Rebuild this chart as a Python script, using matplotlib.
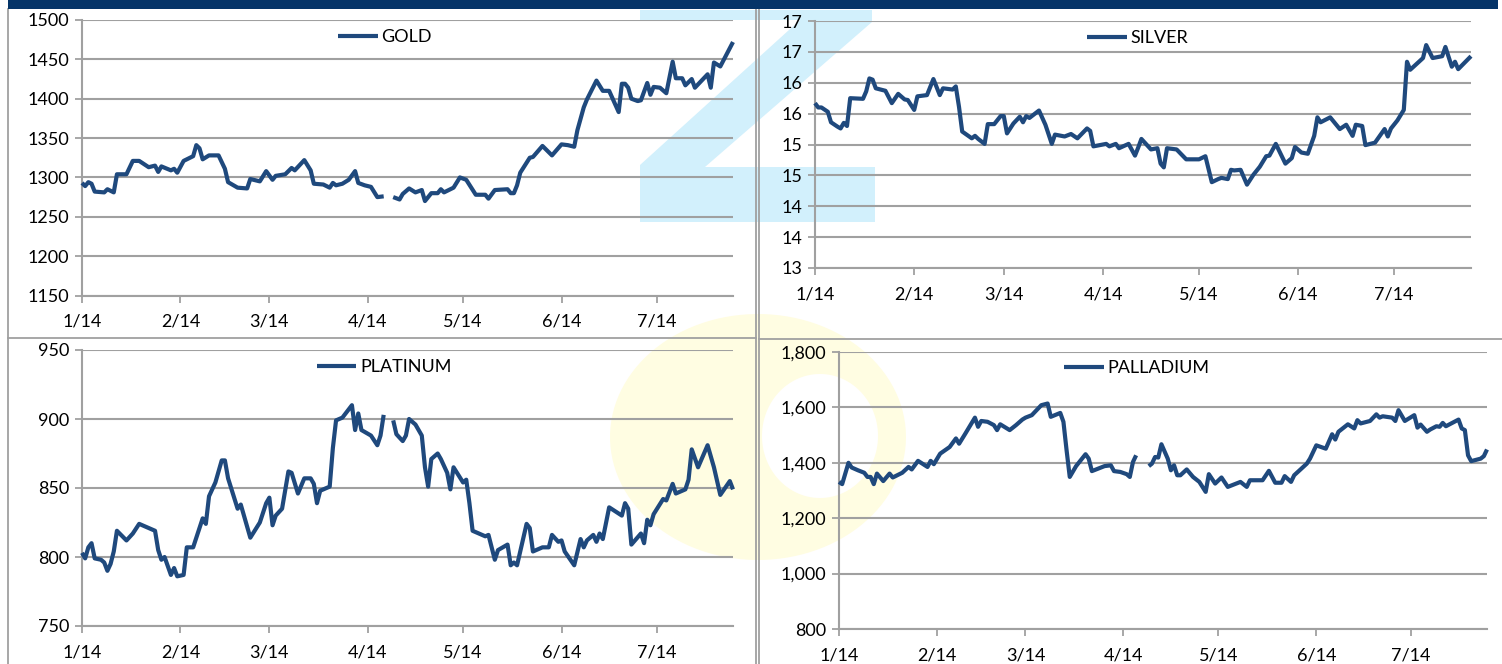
import numpy as np
import pandas as pd
import matplotlib
matplotlib.use("Agg")
import matplotlib.pyplot as plt
import matplotlib.dates as mdates
from matplotlib.patches import Polygon, PathPatch, Rectangle
from matplotlib.path import Path
from matplotlib.lines import Line2D
from matplotlib.ticker import FixedLocator, FuncFormatter

plt.rcParams['font.family'] = ['Lato', 'DejaVu Sans']

# === 1. DATA (day offset from 1 Jan 2014, None = no quote -> gap) ===
START = pd.Timestamp("2014-01-01")
LAST_DAY = 205

gold_day = [0, 1, 2, 3, 4, 7, 8, 10, 11, 14, 16, 18, 21, 23, 24, 25, 28, 29, 30, 32,
            35, 36, 37, 38, 40, 43, 45, 46, 49, 52, 53, 56, 58, 60, 61, 64, 66, 67, 70, 72,
            73, 76, 78, 79, 80, 82, 84, 86, 87, 89, 91, 93, 95, 96,
            98, 100, 101, 103, 105, 107, 108, 110, 112, 113, 114, 117, 119, 121, 124, 127, 128, 130, 134, 135,
            136, 137, 138, 141, 142, 145, 148, 151, 153, 155, 156, 158, 159, 162, 164, 166, 169, 170, 171, 172,
            173, 175, 176, 178, 179, 180, 182, 184, 186, 187, 189, 190, 192, 193, 197, 198, 199, 201, 205]
gold_val = [1293, 1289, 1294, 1292, 1282, 1281, 1285, 1281, 1304, 1304, 1321, 1321, 1313, 1315, 1307, 1314, 1309, 1311, 1306, 1321,
            1327, 1341, 1337, 1323, 1328, 1328, 1311, 1294, 1287, 1286, 1298, 1295, 1308, 1297, 1302, 1304, 1312, 1309, 1322, 1309,
            1292, 1291, 1287, 1293, 1290, 1292, 1297, 1308, 1293, 1290, 1288, 1275, 1276, None,
            1275, 1272, 1279, 1286, 1281, 1284, 1270, 1280, 1280, 1285, 1281, 1287, 1300, 1297, 1278, 1278, 1273, 1284, 1285, 1280,
            1280, 1290, 1306, 1325, 1326, 1340, 1328, 1342, 1341, 1339, 1360, 1389, 1399, 1423, 1410, 1410, 1383, 1419, 1419, 1414,
            1400, 1397, 1398, 1420, 1405, 1415, 1414, 1407, 1447, 1426, 1426, 1417, 1425, 1414, 1431, 1414, 1446, 1441, 1472]

silver_day = [0, 1, 2, 4, 5, 7, 8, 9, 10, 11, 15, 16, 17, 18, 19, 22, 24, 26, 28, 29,
              31, 32, 35, 37, 39, 40, 43, 44, 45, 46, 49, 50, 51, 53, 54, 56, 58, 59, 60, 62,
              64, 65, 66, 67, 70, 72, 74, 75, 78, 80, 82, 85, 86, 87, 91, 92, 94, 95, 98, 100,
              101, 102, 105, 107, 108, 109, 110, 113, 116, 120, 122, 124, 126, 127, 129, 130, 131, 133, 135, 137,
              139, 141, 142, 144, 147, 149, 150, 152, 154, 156, 157, 158, 161, 164, 166, 168, 169, 171, 172, 175,
              178, 179, 180, 182, 184, 185, 186, 190, 191, 193, 196, 197, 199, 200, 201, 205]
silver_val = [15.67, 15.60, 15.60, 15.53, 15.36, 15.29, 15.26, 15.35, 15.30, 15.75, 15.74, 15.86, 16.07, 16.05, 15.91, 15.87, 15.67, 15.82, 15.73, 15.72,
              15.56, 15.78, 15.80, 16.06, 15.80, 15.91, 15.89, 15.94, 15.61, 15.21, 15.10, 15.14, 15.09, 15.01, 15.33, 15.33, 15.46, 15.46, 15.18, 15.34,
              15.45, 15.36, 15.46, 15.43, 15.55, 15.32, 15.01, 15.16, 15.13, 15.17, 15.10, 15.26, 15.22, 14.97, 15.01, 14.97, 15.01, 14.94, 15.01, 14.82,
              14.95, 15.09, 14.92, 14.94, 14.69, 14.63, 14.94, 14.92, 14.76, 14.76, 14.81, 14.39, 14.44, 14.46, 14.44, 14.59, 14.58, 14.59, 14.35, 14.51,
              14.64, 14.81, 14.82, 15.01, 14.69, 14.78, 14.96, 14.87, 14.85, 15.14, 15.44, 15.36, 15.44, 15.25, 15.32, 15.14, 15.32, 15.30, 14.99, 15.03,
              15.25, 15.13, 15.26, 15.39, 15.56, 16.34, 16.21, 16.40, 16.61, 16.40, 16.43, 16.58, 16.26, 16.34, 16.22, 16.43]

platinum_day = [0, 1, 2, 3, 4, 6, 7, 8, 9, 10, 11, 14, 16, 18, 21, 23, 24, 25, 26, 28,
                29, 30, 32, 33, 35, 37, 38, 39, 40, 42, 44, 45, 46, 49, 50, 53, 56, 58, 59, 60,
                61, 63, 65, 66, 68, 70, 72, 73, 74, 75, 78, 79, 80, 82, 85, 86, 87, 88, 91, 93,
                94, 95, 96,
                98, 99, 101, 102, 103, 105, 107, 108, 109, 110, 112, 113, 115, 116, 117, 120, 121, 122,
                123, 127, 128, 130, 131, 134, 135, 136, 137, 140, 141, 142, 145, 147, 148, 150, 151, 152, 155, 157,
                158, 159, 161, 162, 163, 164, 166, 168, 170, 171, 172, 173, 176, 177, 178, 179, 180, 183, 184, 186,
                187, 190, 191, 192, 194, 197, 199, 201, 204, 205]
platinum_val = [803, 799, 807, 810, 799, 798, 796, 790, 795, 804, 819, 812, 817, 824, 821, 819, 805, 798, 800, 787,
                792, 786, 787, 807, 807, 821, 828, 824, 844, 854, 870, 870, 857, 835, 838, 814, 825, 839, 843, 823,
                830, 835, 862, 861, 846, 857, 857, 853, 839, 848, 851, 879, 899, 901, 910, 892, 904, 892, 888, 881,
                888, 903, None,
                899, 889, 884, 888, 900, 896, 888, 865, 851, 871, 875, 871, 861, 849, 865, 854, 856, 839,
                819, 815, 816, 798, 805, 809, 794, 796, 794, 824, 821, 804, 807, 807, 816, 811, 812, 804, 794, 813,
                807, 812, 816, 811, 817, 813, 836, 833, 830, 839, 835, 809, 817, 810, 827, 823, 831, 842, 841, 853,
                846, 849, 856, 878, 865, 881, 865, 845, 855, 849]

palladium_day = [0, 1, 3, 4, 6, 8, 9, 10, 11, 12, 14, 16, 17, 20, 22, 23, 25, 28, 29, 30,
                 32, 35, 37, 38, 40, 43, 44, 45, 47, 49, 50, 51, 54, 56, 58, 59, 61, 64, 66, 67,
                 70, 71, 72, 73, 75, 78, 79, 80, 84, 86, 87, 89, 91, 92, 93, 94, 96,
                 98, 99, 100, 101, 102, 104, 105, 106, 107, 108, 110, 112, 114, 116, 117, 119, 121, 123, 127, 129,
                 130, 134, 136, 138, 140, 141, 143, 144, 148, 149, 151, 154, 156, 157, 158, 161, 163, 164, 165, 168,
                 170, 171, 172, 175, 176, 177, 179, 182, 183, 184, 186, 187, 189, 190, 191, 192, 196, 197, 198, 199,
                 200, 203, 204, 205]
palladium_val = [1331, 1323, 1400, 1383, 1373, 1364, 1349, 1349, 1323, 1361, 1334, 1361, 1347, 1364, 1385, 1376, 1407, 1385, 1407, 1395,
                 1433, 1457, 1488, 1469, 1506, 1563, 1530, 1551, 1548, 1536, 1518, 1539, 1518, 1536, 1556, 1563, 1572, 1608, 1614, 1566,
                 1580, 1548, 1445, 1349, 1388, 1431, 1415, 1370, 1388, 1391, 1370, 1367, 1359, 1349, 1403, 1427, None,
                 1388, 1397, 1421, 1419, 1467, 1415, 1373, 1391, 1355, 1355, 1376, 1349, 1331, 1295, 1359, 1325, 1347, 1313, 1331, 1313,
                 1337, 1337, 1371, 1328, 1328, 1352, 1331, 1355, 1397, 1415, 1463, 1451, 1503, 1484, 1512, 1539, 1524, 1554, 1542, 1551,
                 1575, 1563, 1568, 1563, 1551, 1590, 1551, 1572, 1527, 1538, 1512, 1520, 1532, 1530, 1544, 1532, 1556, 1524, 1518, 1427,
                 1406, 1415, 1424, 1448]

gold_ticks = [1150, 1200, 1250, 1300, 1350, 1400, 1450, 1500]
silver_ticks = [13, 13.5, 14, 14.5, 15, 15.5, 16, 16.5, 17]
platinum_ticks = [750, 800, 850, 900, 950]
palladium_ticks = [800, 1000, 1200, 1400, 1600, 1800]

# === 2. STYLE ===
W, H = 1502, 664
LINE = '#1F497D'
GRID = '#A0A0A0'
NAVY = '#053468'
FS = 13


def fx(x):
    return x / W


def fy(y):
    return 1 - y / H


fig = plt.figure(figsize=(W / 100, H / 100), dpi=100)
fig.patch.set_facecolor('white')

# === 3. WATERMARK (pale logo behind the charts) ===
z_pts = [(640, 10), (872, 10), (872, 22), (705, 167), (875, 167), (875, 222),
         (640, 222), (640, 165), (800, 20), (640, 20)]
fig.patches.append(Polygon([(fx(a), fy(b)) for a, b in z_pts], closed=True,
                           transform=fig.transFigure, facecolor='#D2F0FC',
                           edgecolor='none', zorder=-2))

t = np.linspace(0, 2 * np.pi, 120)
outer = np.column_stack([fx(758 + 148 * np.cos(t)), fy(437 + 123 * np.sin(t))])
inner = np.column_stack([fx(820 + 58 * np.cos(t[::-1])), fy(436 + 62 * np.sin(t[::-1]))])
verts = np.vstack([outer, inner])
codes = ([Path.MOVETO] + [Path.LINETO] * (len(t) - 2) + [Path.CLOSEPOLY]) * 2
fig.patches.append(PathPatch(Path(verts, codes), transform=fig.transFigure,
                             facecolor='#FFFDE2', edgecolor='none', zorder=-2))

# navy header strip
fig.patches.append(Rectangle((fx(8), fy(9)), fx(1498) - fx(8), 9 / H,
                             transform=fig.transFigure, facecolor=NAVY,
                             edgecolor='none', zorder=3))

# panel borders
for x0, y0, x1, y1 in [(8, 9, 8, 664), (756, 9, 756, 664), (759, 9, 759, 664),
                       (8, 338, 756, 338), (759, 339, 1502, 339)]:
    fig.lines.append(Line2D([fx(x0), fx(x1)], [fy(y0), fy(y1)], transform=fig.transFigure,
                            color=GRID, lw=1.3, zorder=2))


# === 4. PANELS ===
def month_label(v, pos):
    d = mdates.num2date(v)
    return f"{d.month}/{d:%y}"


def panel(box, days, vals, name, yticks, ylabels, leg_xy):
    l, t_, r, b = box
    ax = fig.add_axes([fx(l), fy(b), fx(r) - fx(l), fy(t_) - fy(b)])
    ax.set_facecolor('none')
    x = START + pd.to_timedelta(days, unit='D')
    y = np.array(vals, dtype=float)
    ax.plot(x, y, color=LINE, lw=3.0, solid_joinstyle='round', solid_capstyle='butt',
            label=name, clip_on=False, zorder=3)
    ax.set_xlim(START, START + pd.Timedelta(days=LAST_DAY))
    ax.set_ylim(yticks[0], yticks[-1])
    ax.yaxis.set_major_locator(FixedLocator(yticks))
    ax.set_yticklabels(ylabels)
    ax.xaxis.set_major_locator(mdates.MonthLocator())
    ax.xaxis.set_major_formatter(FuncFormatter(month_label))
    ax.yaxis.grid(True, color=GRID, lw=1.5)
    ax.set_axisbelow(True)
    for s in ['top', 'right']:
        ax.spines[s].set_visible(False)
    for s in ['left', 'bottom']:
        ax.spines[s].set_color(GRID)
        ax.spines[s].set_linewidth(1.5)
    ax.tick_params(axis='both', direction='out', length=5, width=1.3, color=GRID,
                   labelsize=FS, labelcolor='black')
    ax.tick_params(axis='x', pad=8)
    ax.tick_params(axis='y', pad=4)
    ax.legend(loc='center', bbox_to_anchor=(fx(leg_xy[0]), fy(leg_xy[1])),
              bbox_transform=fig.transFigure, frameon=False, fontsize=FS,
              handlelength=2.2, handletextpad=0.2, borderpad=0)
    return ax


panel((82, 20, 733, 295.5), gold_day, gold_val, 'GOLD',
      gold_ticks, [str(v) for v in gold_ticks], (385, 37))
panel((815, 21, 1471, 268), silver_day, silver_val, 'SILVER',
      silver_ticks, [str(int(np.floor(v + 0.5))) for v in silver_ticks], (1138, 38))
panel((82, 350, 733, 626), platinum_day, platinum_val, 'PLATINUM',
      platinum_ticks, [str(v) for v in platinum_ticks], (384, 367))
panel((839, 352, 1487, 629), palladium_day, palladium_val, 'PALLADIUM',
      palladium_ticks, [f"{v:,}" for v in palladium_ticks], (1137, 368))

fig.savefig('out.png', dpi=100, facecolor='white')
